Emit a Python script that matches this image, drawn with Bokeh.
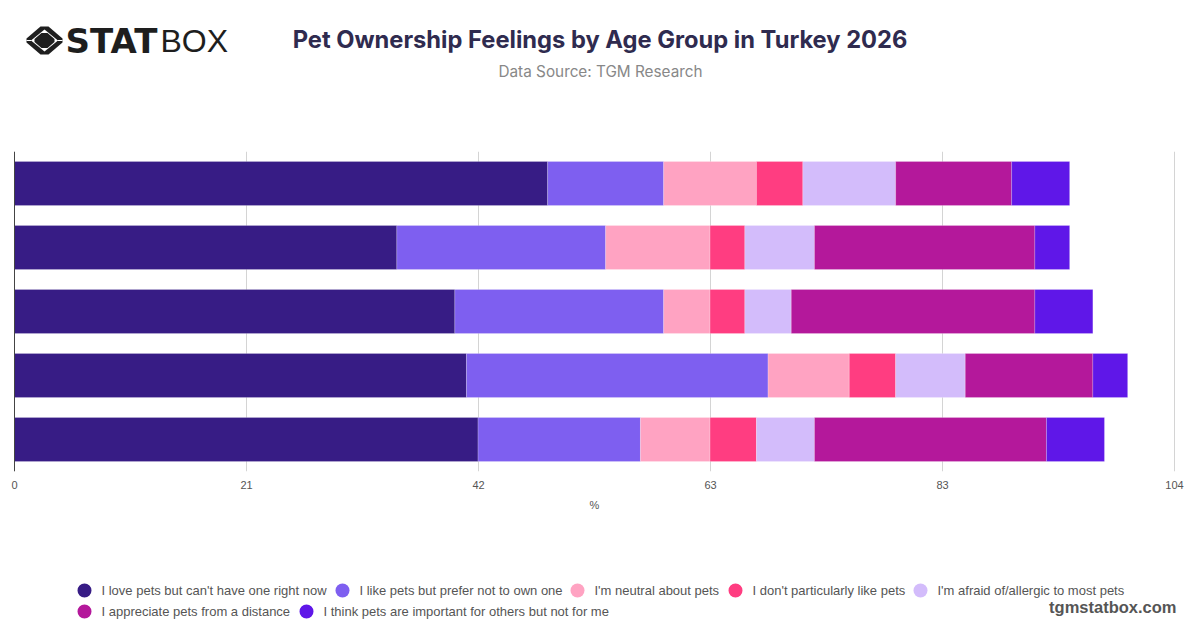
from bokeh.plotting import figure
from bokeh.layouts import column
from bokeh.models import (ColumnDataSource, FactorRange, Range1d, FixedTicker, Span, Label,
                          PolyAnnotation)
from bokeh.embed import file_html
from bokeh.resources import INLINE

# Age-group labels are hidden in the reference, so rows carry neutral names.
rows = ["Row 1", "Row 2", "Row 3", "Row 4", "Row 5"]

love_no_pet = [47.80, 34.28, 39.48, 40.52, 41.56]
like_no_own = [10.40, 18.72, 18.72, 27.04, 14.56]
neutral = [8.32, 9.36, 4.16, 7.28, 6.24]
dislike = [4.16, 3.12, 3.12, 4.16, 4.16]
afraid = [8.32, 6.24, 4.16, 6.24, 5.20]
from_distance = [10.40, 19.76, 21.84, 11.44, 20.80]
for_others = [5.20, 3.12, 5.20, 3.12, 5.20]

series_names = [
    "I love pets but can't have one right now",
    "I like pets but prefer not to own one",
    "I'm neutral about pets",
    "I don't particularly like pets",
    "I'm afraid of/allergic to most pets",
    "I appreciate pets from a distance",
    "I think pets are important for others but not for me",
]
colors = ["#371C85", "#7E5FF0", "#FFA3C2", "#FF3D81", "#D3BCFB", "#B4189B", "#5F17E8"]
tick_values = [0, 20.8, 41.6, 62.4, 83.2, 104]
tick_labels = ["0", "21", "42", "63", "83", "104"]

W = 1200
BORDER_R = 12
FRAME_W = W - BORDER_R
HEAD_H, CHART_H, FOOT_H = 151, 369, 105
AXIS_PX_LEFT, AXIS_PX_RIGHT = 14, 1174
AXIS_MAX = tick_values[-1]
PX_PER_UNIT = (AXIS_PX_RIGHT - AXIS_PX_LEFT) / AXIS_MAX


def blank(height, y_top):
    f = figure(width=W, height=height, output_backend="svg", toolbar_location=None,
               x_range=Range1d(0, FRAME_W), y_range=Range1d(y_top + height, y_top),
               min_border_left=0, min_border_right=BORDER_R, min_border_top=0, min_border_bottom=0)
    f.outline_line_color = None
    f.axis.visible = False
    f.grid.visible = False
    return f


def text(f, s, x, y, font, size, color, style="normal", align="left"):
    f.add_layout(Label(x=x, y=y, text=s, text_font=font, text_font_size=size, text_color=color,
                       text_font_style=style, text_align=align, text_baseline="middle"))


def poly(f, pts, color):
    f.add_layout(PolyAnnotation(xs=[a for a, _ in pts], ys=[b for _, b in pts],
                                fill_color=color, fill_alpha=1, line_color=None))


# header
head = blank(HEAD_H, 0)
INK = "#1E1E1E"
text(head, "Pet Ownership Feelings by Age Group in Turkey 2026", 599.5, 39, "Inter", "23.7px", "#2F2B4F", "bold", "center")
text(head, "Data Source: TGM Research", 600, 71, "Inter", "15.3px", "#888888", "normal", "center")
text(head, "STAT", 65, 40, "DejaVu Sans", "34px", INK, "bold")
text(head, "BOX", 160, 40, "Liberation Sans", "32px", INK)
poly(head, [(40, 26), (48, 26), (62, 38), (62, 42), (48, 54), (40, 54), (26, 42), (26, 38)], INK)
poly(head, [(44, 29), (57.5, 40), (44, 51), (30.5, 40)], "white")
poly(head, [(41, 32.5), (47, 32.5), (54, 38.5), (54, 41.5), (47, 47.5), (41, 47.5), (34, 41.5), (34, 38.5)], INK)
poly(head, [(26, 39.4), (31, 39.4), (31, 40.6), (26, 40.6)], "white")
poly(head, [(57, 39.4), (62, 39.4), (62, 40.6), (57, 40.6)], "white")

# chart
p = figure(width=W, height=CHART_H, output_backend="svg", toolbar_location=None,
           x_range=Range1d(-AXIS_PX_LEFT / PX_PER_UNIT, (FRAME_W - AXIS_PX_LEFT) / PX_PER_UNIT),
           y_range=FactorRange(factors=rows[::-1], range_padding=0),
           min_border_left=0, min_border_right=BORDER_R, min_border_top=0, min_border_bottom=49)
p.outline_line_color = None
p.yaxis.visible = False
p.ygrid.visible = False

data = {"rows": rows}
for name, vals in zip(series_names, [love_no_pet, like_no_own, neutral, dislike, afraid, from_distance, for_others]):
    data[name] = vals
source = ColumnDataSource(data)
p.hbar_stack(series_names, y="rows", height=0.6875, source=source, color=colors,
             line_color="white", line_alpha=0.2, line_width=1)

xa = p.xaxis[0]
xa.ticker = FixedTicker(ticks=tick_values)
xa.major_label_overrides = dict(zip(tick_values, tick_labels))
xa.axis_line_color = None
xa.major_tick_line_color = None
xa.minor_tick_line_color = None
xa.major_tick_in = 0
xa.major_tick_out = 0
xa.major_label_standoff = 9
xa.major_label_text_font = "Liberation Sans"
xa.major_label_text_font_size = "11px"
xa.major_label_text_color = "#555555"
xa.axis_label = "%"
xa.axis_label_standoff = 7
xa.axis_label_text_font = "Liberation Sans"
xa.axis_label_text_font_size = "11px"
xa.axis_label_text_font_style = "normal"
xa.axis_label_text_color = "#555555"
p.xgrid.grid_line_color = "#d4d4d4"
p.xgrid.grid_line_width = 1
p.add_layout(Span(location=0, dimension="height", line_color="#444444", line_width=1))

# footer
FOOT_TOP = HEAD_H + CHART_H
foot = blank(FOOT_H, FOOT_TOP)
text(foot, "tgmstatbox.com", 1176, 606, "Liberation Sans", "16.5px", "#555555", "bold", "right")

legend_cx = [84, 342, 577, 735, 920, 84, 306]
legend_cy = [590, 590, 590, 590, 590, 611, 611]
foot.scatter(x=legend_cx, y=legend_cy, marker="circle", size=14, fill_color=colors, line_color=None)
for name, cx, cy in zip(series_names, legend_cx, legend_cy):
    text(foot, name, cx + 17, cy - 0.5, "Liberation Sans", "13px", "#555555")

open("out.html", "w").write(file_html(column(head, p, foot, spacing=0), INLINE))
